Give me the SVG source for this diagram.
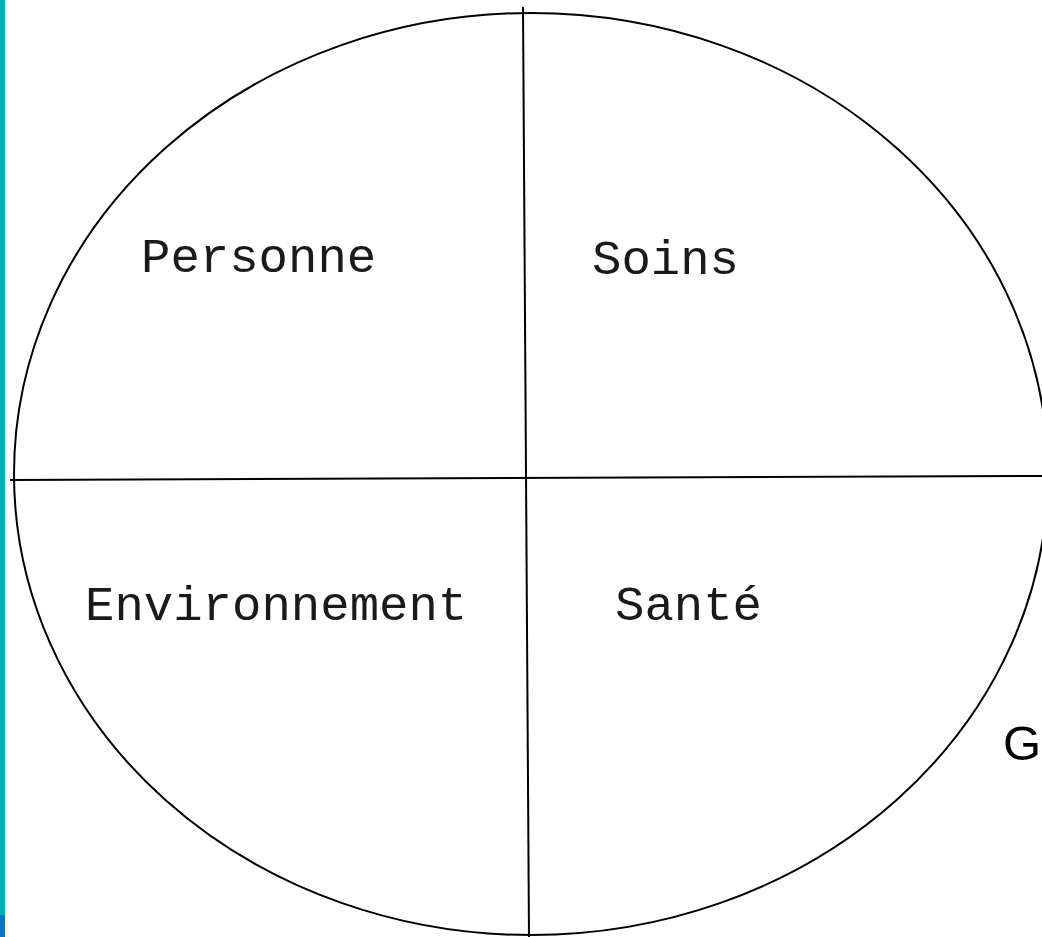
<svg xmlns="http://www.w3.org/2000/svg" width="1042" height="937" viewBox="0 0 1042 937">
<style>
.ln{stroke:#000;stroke-width:2;fill:none}
.lbl{font-family:"Liberation Mono","Courier New",monospace;font-size:49px;fill:#1a1a1a}
</style>
<rect width="1042" height="937" fill="#fff"/>
<rect x="0" y="0" width="5" height="915" fill="#00B0B4"/>
<rect x="0" y="915" width="5" height="22" fill="#0A72C0"/>
<g id="circle"><ellipse class="ln" cx="531" cy="474" rx="517" ry="461"/></g>
<g id="connectors">
<line class="ln" x1="523" y1="7" x2="529" y2="937"/>
<line class="ln" x1="10" y1="480" x2="1042" y2="476"/>
</g>
<g id="personne"><text class="lbl" x="141" y="272">Personne</text></g>
<g id="soins"><text class="lbl" x="592" y="274">Soins</text></g>
<g id="environnement"><text class="lbl" x="85" y="620">Environnement</text></g>
<g id="sante"><text class="lbl" x="615" y="620">Santé</text></g>
<g id="g"><text x="1003" y="760" style="font-family:'Liberation Sans',Arial,sans-serif;font-size:49px;fill:#000">G</text></g>
</svg>
